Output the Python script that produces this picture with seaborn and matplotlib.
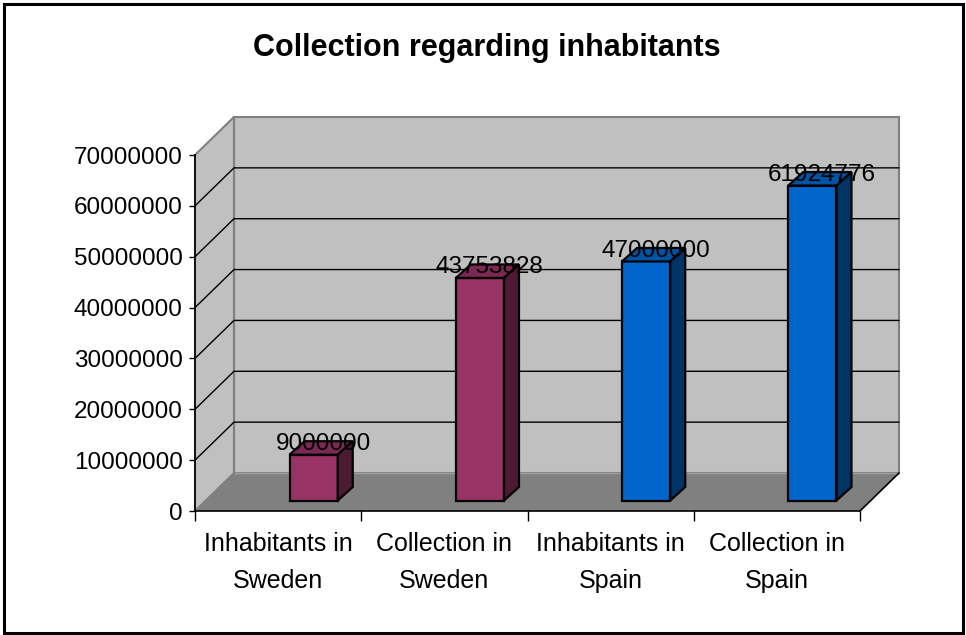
import numpy as np
import pandas as pd
import matplotlib
matplotlib.use("Agg")
import matplotlib.pyplot as plt
from matplotlib.patches import Polygon, Rectangle
from matplotlib.lines import Line2D
from matplotlib.ticker import FixedLocator, FuncFormatter
import seaborn as sns

# ---- data ----
categories = ["Inhabitants in\nSweden", "Collection in\nSweden",
              "Inhabitants in\nSpain", "Collection in\nSpain"]
values = [9000000, 43753828, 47000000, 61924776]
value_labels = ["9000000", "43753828", "47000000", "61924776"]
face_colors = ["#993366", "#993366", "#0066CC", "#0066CC"]
top_colors = ["#7A2952", "#7A2952", "#0052A3", "#0052A3"]
side_colors = ["#4D1A33", "#4D1A33", "#003366", "#003366"]
y_ticks = [0, 10000000, 20000000, 30000000, 40000000, 50000000, 60000000, 70000000]
title = "Collection regarding inhabitants"

sns.set_theme(style="white")
plt.rcParams["font.family"] = ["Liberation Sans", "DejaVu Sans"]
plt.rcParams["text.color"] = "black"
plt.rcParams["xtick.color"] = "black"
plt.rcParams["ytick.color"] = "black"
plt.rcParams["xtick.labelcolor"] = "black"
plt.rcParams["ytick.labelcolor"] = "black"

W, H = 966, 635
fig = plt.figure(figsize=(W / 100, H / 100), dpi=100)
fig.patch.set_facecolor("white")

# front plane of the plot (pixels from top-left)
L, R, T, B = 195, 860, 155, 511
ax = fig.add_axes([L / W, (H - B) / H, (R - L) / W, (B - T) / H])
ax.patch.set_alpha(0)

df = pd.DataFrame({"cat": categories, "val": values})
sns.barplot(data=df, x="cat", y="val", hue="cat", palette=face_colors,
            legend=False, width=0.29, edgecolor="black", linewidth=1.6,
            saturation=1, ax=ax, zorder=5)

YMAX = 70000000
ax.set_xlim(-0.5, 3.5)
ax.set_ylim(0, YMAX)

# pixel -> data unit conversions
ux = 4.0 / (R - L)
uy = YMAX / (B - T)

# depth of the whole floor / walls
DX, DY = 39 * ux, 38 * uy
# offset of bar front face from front plane
BX, BY = 35.5 * ux, 10.5 * uy
# depth of bars
dx2, dy2 = 15 * ux, 13.5 * uy

# back wall
ax.add_patch(Rectangle((-0.5 + DX, DY), 4.0, YMAX, facecolor="#C0C0C0",
                       edgecolor="#808080", linewidth=1.5, clip_on=False, zorder=0))
# side wall
ax.add_patch(Polygon([(-0.5, 0), (-0.5, YMAX), (-0.5 + DX, YMAX + DY), (-0.5 + DX, DY)],
                     closed=True, facecolor="#C0C0C0", edgecolor="#808080",
                     linewidth=1.5, clip_on=False, zorder=0))
# floor
ax.add_patch(Polygon([(-0.5, 0), (3.5, 0), (3.5 + DX, DY), (-0.5 + DX, DY)],
                     closed=True, facecolor="#808080", edgecolor="none",
                     clip_on=False, zorder=1))
ax.add_line(Line2D([3.5, 3.5 + DX], [0, DY], color="black", linewidth=1.2,
                   clip_on=False, zorder=2))
ax.add_line(Line2D([-0.5 + DX, 3.5 + DX], [DY, DY], color="#A0A0A0", linewidth=1.0,
                   clip_on=False, zorder=1.5))
ax.add_line(Line2D([-0.5 + DX, -0.5 + DX], [DY, YMAX + DY], color="#808080",
                   linewidth=1.5, clip_on=False, zorder=1.5))

# gridlines
for v in y_ticks[1:-1]:
    ax.add_line(Line2D([-0.5, -0.5 + DX, 3.5 + DX], [v, v + DY, v + DY],
                       color="black", linewidth=1.0, clip_on=False, zorder=2))

# 3D bars
for i, p in enumerate(ax.patches[:len(values)]):
    x0 = p.get_x() + BX
    w = p.get_width()
    h = p.get_height()
    p.set_x(x0)
    p.set_y(BY)
    p.set_clip_on(False)
    p.set_zorder(5)
    x1 = x0 + w
    top = h + BY
    ax.add_patch(Polygon([(x0, top), (x1, top), (x1 + dx2, top + dy2), (x0 + dx2, top + dy2)],
                         closed=True, facecolor=top_colors[i], edgecolor="black",
                         linewidth=1.6, clip_on=False, zorder=5))
    ax.add_patch(Polygon([(x1, BY), (x1, top), (x1 + dx2, top + dy2), (x1 + dx2, BY + dy2)],
                         closed=True, facecolor=side_colors[i], edgecolor="black",
                         linewidth=1.6, clip_on=False, zorder=5))
    ax.text(x0 + w / 2 + dx2 / 2 + 2 * ux, top + dy2 / 2 - 2 * uy, value_labels[i],
            ha="center", va="baseline", fontsize=17.5, color="black", zorder=10,
            clip_on=False)

# axes styling
for s in ["top", "right"]:
    ax.spines[s].set_visible(False)
for s in ["left", "bottom"]:
    ax.spines[s].set_color("black")
    ax.spines[s].set_linewidth(1.2)
    ax.spines[s].set_zorder(3)

ax.set_xlabel("")
ax.set_ylabel("")
ax.yaxis.set_major_locator(FixedLocator(y_ticks))
ax.yaxis.set_major_formatter(FuncFormatter(lambda v, p: f"{int(v)}"))
ax.tick_params(axis="y", which="major", left=True, length=4, width=1, color="black",
               labelsize=17.5, pad=5, labelcolor="black")
ax.set_xticks(range(len(categories)))
ax.set_xticklabels(categories, fontsize=18, linespacing=1.7, color="black")
ax.set_xticks([-0.5, 0.5, 1.5, 2.5, 3.5], minor=True)
ax.tick_params(axis="x", which="major", bottom=True, length=0, pad=15)
ax.tick_params(axis="x", which="minor", bottom=True, length=7, width=1, color="black")

# title
fig.text(487 / W, 1 - 48 / H, title, ha="center", va="center",
         fontsize=22, fontweight="bold", color="black")

# outer frame
fig.patches.append(Rectangle((3.5 / W, 2.5 / H), (W - 7) / W, (H - 6) / H,
                             transform=fig.transFigure, fill=False,
                             edgecolor="black", linewidth=2.2))

fig.savefig("out.png", dpi=100)
